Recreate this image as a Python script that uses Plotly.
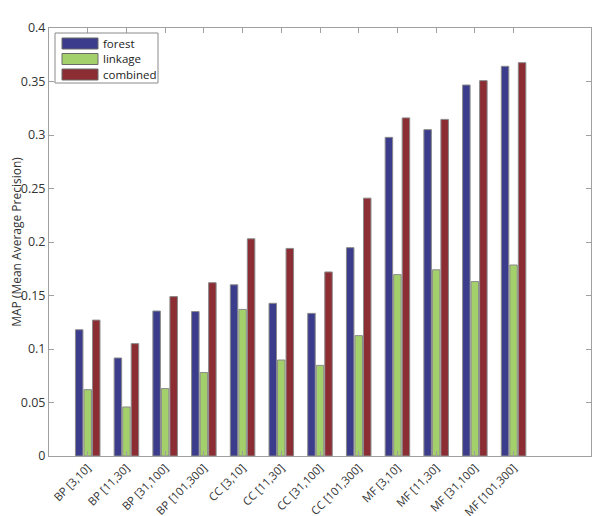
import plotly.graph_objects as go

categories = ["BP [3,10]", "BP [11,30]", "BP [31,100]", "BP [101,300]",
              "CC [3,10]", "CC [11,30]", "CC [31,100]", "CC [101,300]",
              "MF [3,10]", "MF [11,30]", "MF [31,100]", "MF [101,300]"]
forest = [0.118, 0.0916, 0.1355, 0.135, 0.160, 0.1427, 0.1333, 0.1947, 0.2978, 0.305, 0.3467, 0.3642]
linkage = [0.062, 0.0458, 0.063, 0.078, 0.137, 0.0897, 0.0847, 0.1125, 0.1695, 0.174, 0.163, 0.1785]
combined = [0.127, 0.105, 0.149, 0.162, 0.203, 0.194, 0.172, 0.241, 0.316, 0.3146, 0.3508, 0.3676]
series_names = ["forest", "linkage", "combined"]
yticks = [0, 0.05, 0.1, 0.15, 0.2, 0.25, 0.3, 0.35, 0.4]
ytick_labels = ["0", "0.05", "0.1", "0.15", "0.2", "0.25", "0.3", "0.35", "0.4"]

colors = ["#3b3d8c", "#a4d06b", "#8b2d33"]
xpos = list(range(1, len(categories) + 1))
font = "Open Sans, Lato, sans-serif"

# page body has an 8px default margin; compensate so the figure lines up with the window
OFF = 8
FW, FH = 600 - OFF, 516 - OFF
L, R, T, B = 49, 591, 28, 456  # window pixel coords of plot area
W, H = R - L, B - T
def px(x):
    return (x - L) / W
def py(y):
    return (B - y) / H

fig = go.Figure()
for name, vals, col in zip(series_names, [forest, linkage, combined], colors):
    fig.add_trace(go.Bar(x=xpos, y=vals, name=name,
                         marker=dict(color=col, line=dict(color="#8a8a8a", width=1))))

shapes = [dict(type="rect", xref="paper", yref="paper", x0=px(55), x1=px(158), y0=py(83), y1=py(33),
               line=dict(color="#8a8a8a", width=1), fillcolor="white", layer="above")]
annotations = []
for i, (name, col) in enumerate(zip(series_names, colors)):
    cy = 43.5 + i * 15.5
    shapes.append(dict(type="rect", xref="paper", yref="paper", x0=px(62), x1=px(98),
                       y0=py(cy + 5.5), y1=py(cy - 5.5), fillcolor=col,
                       line=dict(color="#6a6a6a", width=1), layer="above"))
    annotations.append(dict(xref="paper", yref="paper", x=px(101), y=py(cy), text=name,
                            showarrow=False, xanchor="left", yanchor="middle",
                            font=dict(size=11.5, color="#222222")))

fig.update_layout(
    width=FW, height=FH,
    margin=dict(l=L - OFF, r=600 - R, t=T - OFF, b=516 - B),
    paper_bgcolor="white", plot_bgcolor="white",
    barmode="group", bargap=0.34, bargroupgap=0.12,
    font=dict(family=font, size=12, color="#333333"),
    showlegend=False,
    shapes=shapes, annotations=annotations,
)
fig.update_xaxes(range=[0, 14], tickvals=xpos, ticktext=categories, tickangle=-45, automargin=False,
                 showline=True, linecolor="#a0a0a0", linewidth=1, mirror="ticks",
                 ticks="inside", ticklen=5, tickcolor="#a0a0a0", showgrid=False, zeroline=False,
                 tickfont=dict(size=11.3))
fig.update_yaxes(range=[0, 0.4], tickvals=yticks, ticktext=ytick_labels, automargin=False,
                 showline=True, linecolor="#a0a0a0", linewidth=1, mirror="ticks",
                 ticks="inside", ticklen=5, tickcolor="#a0a0a0", showgrid=False, zeroline=False,
                 tickfont=dict(size=12.5),
                 title=dict(text="MAP (Mean Average Precision)", standoff=9, font=dict(size=12)))

fig.write_html("out.html")
